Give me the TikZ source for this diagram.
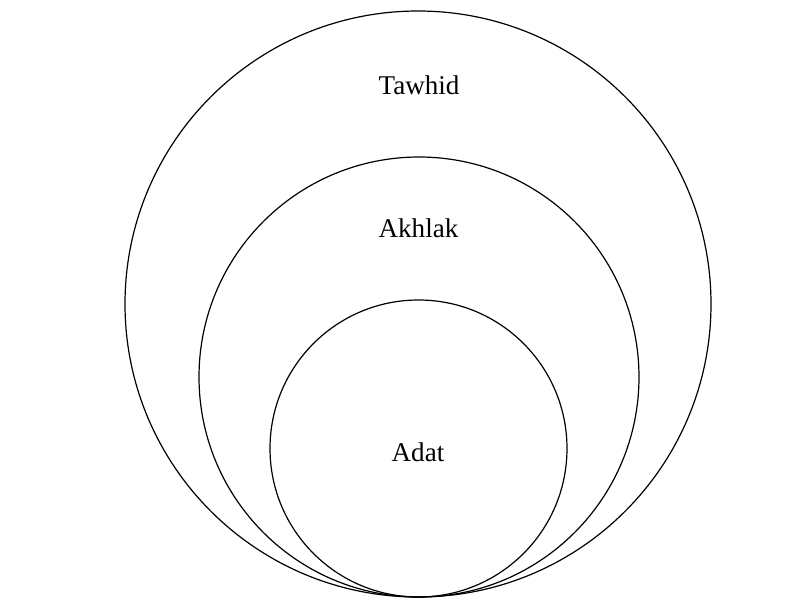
\documentclass[tikz,border=0pt]{standalone}
\usepackage{fontspec}
\setmainfont{Liberation Serif}
\begin{document}
\begin{tikzpicture}[x=0.75pt,y=-0.75pt,
  ring/.style={draw=black,line width=0.9pt,circle,inner sep=0pt},
  tag/.style={font=\fontsize{20.3}{24}\selectfont,inner sep=0pt}]
  \useasboundingbox (0,0) rectangle (790,600);
  % three nested circles sharing one bottom point
  \node[ring,minimum size=439.5pt] (tawhid) at (418,304) {};
  \node[ring,minimum size=330pt] (akhlak) at (419,377) {};
  \node[ring,minimum size=222.75pt] (adat) at (418.5,448.5) {};
  % labels
  \node[tag] (ltawhid) at (419,85) {Tawhid};
  \node[tag] (lakhlak) at (418.5,228) {Akhlak};
  \node[tag] (ladat) at (418,452) {Adat};
\end{tikzpicture}
\end{document}
